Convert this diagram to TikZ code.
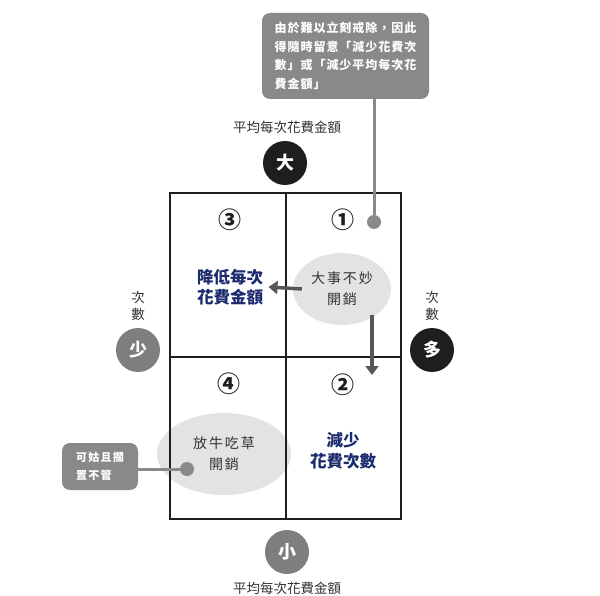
\documentclass[tikz,border=0pt]{standalone}
\usepackage{fontspec}
\setmainfont{Noto Sans CJK TC}
\usepackage{xcolor}
\definecolor{cInk}{HTML}{1E1E1E}
\definecolor{cNavy}{HTML}{1C2B6E}
\definecolor{cNote}{HTML}{898989}
\definecolor{cBlob}{HTML}{E3E3E3}
\definecolor{cArrow}{HTML}{575757}
\definecolor{cDisk}{HTML}{7E7E7E}
\definecolor{cText}{HTML}{333333}
\usepackage{tikz}
\usetikzlibrary{positioning,arrows.meta,shapes.geometric,calc}
\tikzset{
  grid-line/.style={draw=cInk,line width=1.8pt},
  node-blob/.style={ellipse,fill=cBlob,align=center,text=cText,
    font=\fontsize{14}{21}\selectfont\addfontfeature{LetterSpace=14}},
  node-plan/.style={align=center,text=cNavy,
    font=\bfseries\fontsize{16.5}{20.5}\selectfont},
  node-num/.style={text=cInk,font=\bfseries\fontsize{23}{23}\selectfont},
  node-axis/.style={text=cText,align=center,font=\fontsize{13.5}{16.5}\selectfont},
  % 大/多 用黑底，少/小 用灰底
  node-disk/.style={circle,minimum size=44pt,inner sep=0pt,text=white,
    font=\bfseries\fontsize{18}{18}\selectfont},
  node-disk-high/.style={fill=cInk},
  node-disk-low/.style={fill=cDisk},
  node-note/.style={fill=cNote,rounded corners=8pt,text=white,align=left,
    inner sep=0pt,font=\bfseries\addfontfeature{LetterSpace=8}},
  node-dot/.style={circle,fill=cNote,minimum size=14pt,inner sep=0pt},
  arrow/.style={-{Triangle[length=9pt,width=13pt]},line width=3.5pt,draw=cArrow},
  leader/.style={line width=3pt,draw=cNote},
}

\begin{document}
\begin{tikzpicture}[x=1pt,y=-1pt]
  \useasboundingbox (0,0) rectangle (600,596);
  % 灰色底塊
  \node[node-blob,minimum width=98pt,minimum height=72pt] (b1) at (342,289) {大事不妙\\開銷};
  \node[node-blob,minimum width=134pt,minimum height=82pt] (b4) at (224,454) {放牛吃草\\開銷};
  % 四象限
  \draw[grid-line] (170,193) rectangle (401,519);
  \draw[grid-line] (286,193) -- (286,519);
  \draw[grid-line] (170,357) -- (401,357);
  \node[node-num] (n1) at (343,220) {①};
  \node[node-num] (n2) at (343,385) {②};
  \node[node-num] (n3) at (230,220) {③};
  \node[node-num] (n4) at (229,384) {④};
  \node[node-plan] (p3) at (230,287) {降低每次\\花費金額};
  \node[node-plan] (p2) at (343,451) {減少\\花費次數};
  % 軸
  \node[node-axis] (ax-top) at (287,127) {平均每次花費金額};
  \node[node-disk,node-disk-high] (big) at (285,163) {大};
  \node[node-disk,node-disk-low] (small) at (287,552) {小};
  \node[node-axis] (ax-bot) at (287,588) {平均每次花費金額};
  \node[node-axis] (ax-left) at (138,306) {次\\數};
  \node[node-disk,node-disk-low] (few) at (138,350) {少};
  \node[node-axis] (ax-right) at (432,306) {次\\數};
  \node[node-disk,node-disk-high] (many) at (432,350) {多};
  % 箭頭
  \coordinate (dn-from) at (372,315);
  \coordinate (dn-to) at (372,375);
  \draw[arrow] ([xshift=9pt]b1.west) -- ([xshift=2pt]p3.east);
  \draw[arrow] (dn-from) -- (dn-to);
  % 說明框
  \node[node-note,minimum width=167pt,minimum height=86pt,
    font=\bfseries\fontsize{12}{18.5}\selectfont\addfontfeature{LetterSpace=8}] (note1) at (345.5,56)
    {由於難以立刻戒除，因此\\得隨時留意「減少花費次\\數」或「減少平均每次花\\費金額」};
  \node[node-dot] (dot1) at (374,222) {};
  \draw[leader] (note1.south -| dot1) -- (dot1);
  \node[node-note,minimum width=76pt,minimum height=47pt,
    font=\bfseries\fontsize{11}{18}\selectfont\addfontfeature{LetterSpace=12}] (note2) at (100,466.5)
    {可姑且擱\\置不管};
  \node[node-dot] (dot2) at (187,469) {};
  \draw[leader] (note2.east |- dot2) -- (dot2);
\end{tikzpicture}
\end{document}
